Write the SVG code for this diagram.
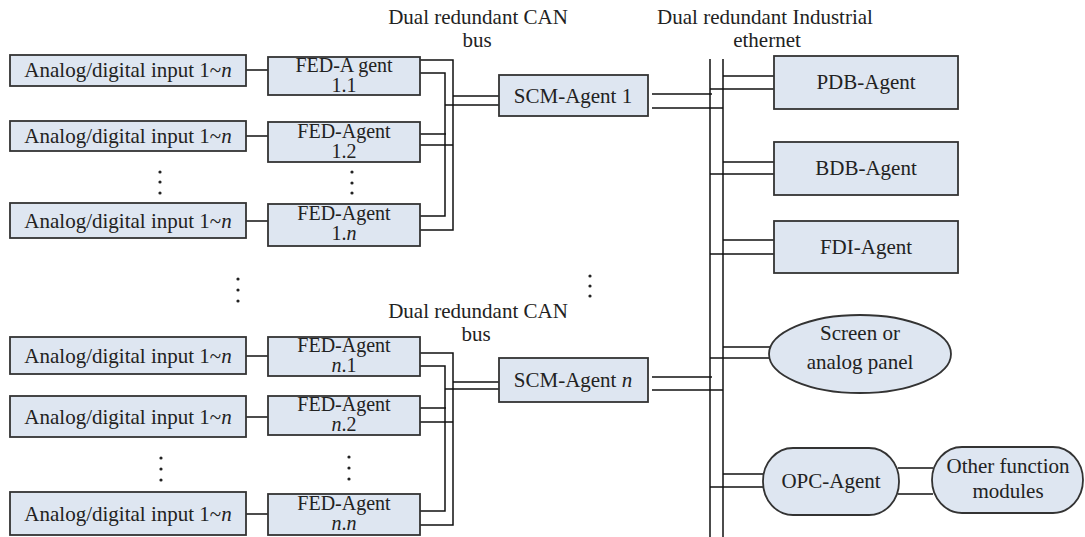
<svg xmlns="http://www.w3.org/2000/svg" width="1085" height="537" viewBox="0 0 1085 537">
<style>
.n{fill:#dee6f1;stroke:#333;stroke-width:1.8}
.t{font-family:"Liberation Serif","Times New Roman",serif;font-size:21px;fill:#222;text-anchor:middle}
.f{font-size:20px}
.i{font-style:italic}
.c line,.c polyline{stroke:#111;stroke-width:1.5;fill:none}
.d{fill:#222}
</style>
<rect width="1085" height="537" fill="#fff"/>
<g class="c" id="connectors">
<line x1="246" y1="70" x2="268" y2="70"/>
<line x1="246" y1="136" x2="268" y2="136"/>
<line x1="246" y1="221" x2="268" y2="221"/>
<line x1="246" y1="356" x2="268" y2="356"/>
<line x1="246" y1="417" x2="268" y2="417"/>
<line x1="246" y1="514" x2="268" y2="514"/>
<polyline points="420,60 453,60 453,230 420,230"/>
<line x1="420" y1="145" x2="453" y2="145"/>
<polyline points="420,73 445,73 445,216 420,216"/>
<line x1="420" y1="134" x2="446" y2="134"/>
<line x1="453" y1="96" x2="499" y2="96"/>
<line x1="445" y1="105" x2="499" y2="105"/>
<polyline points="420,353 453,353 453,525 420,525"/>
<line x1="420" y1="422" x2="453" y2="422"/>
<polyline points="420,366 445,366 445,511 420,511"/>
<line x1="420" y1="408" x2="446" y2="408"/>
<line x1="453" y1="382" x2="499" y2="382"/>
<line x1="445" y1="389" x2="499" y2="389"/>
<line x1="710" y1="59" x2="710" y2="537"/>
<line x1="723" y1="59" x2="723" y2="537"/>
<line x1="652" y1="94" x2="712" y2="94"/>
<line x1="652" y1="108" x2="723" y2="108"/>
<line x1="652" y1="377" x2="712" y2="377"/>
<line x1="652" y1="390" x2="723" y2="390"/>
<line x1="723" y1="76" x2="774" y2="76"/>
<line x1="710" y1="89" x2="774" y2="89"/>
<line x1="723" y1="162" x2="774" y2="162"/>
<line x1="710" y1="174" x2="774" y2="174"/>
<line x1="723" y1="240" x2="774" y2="240"/>
<line x1="710" y1="254" x2="774" y2="254"/>
<line x1="723" y1="347" x2="770" y2="347"/>
<line x1="710" y1="358" x2="769" y2="358"/>
<line x1="723" y1="474" x2="764" y2="474"/>
<line x1="710" y1="487" x2="764" y2="487"/>
<line x1="898" y1="468" x2="933" y2="468"/>
<line x1="898" y1="494" x2="933" y2="494"/>
</g>
<g id="in1"><rect class="n" x="10" y="55" width="236" height="31"/><text class="t" x="128" y="77">Analog/digital input 1~<tspan class="i">n</tspan></text></g>
<g id="in2"><rect class="n" x="10" y="121" width="236" height="30"/><text class="t" x="128" y="143">Analog/digital input 1~<tspan class="i">n</tspan></text></g>
<g id="in3"><rect class="n" x="10" y="203" width="236" height="35"/><text class="t" x="128" y="228">Analog/digital input 1~<tspan class="i">n</tspan></text></g>
<g id="in4"><rect class="n" x="10" y="337" width="236" height="37"/><text class="t" x="128" y="363">Analog/digital input 1~<tspan class="i">n</tspan></text></g>
<g id="in5"><rect class="n" x="10" y="396" width="236" height="41"/><text class="t" x="128" y="424">Analog/digital input 1~<tspan class="i">n</tspan></text></g>
<g id="in6"><rect class="n" x="10" y="492" width="236" height="43"/><text class="t" x="128" y="521">Analog/digital input 1~<tspan class="i">n</tspan></text></g>
<g id="fed11"><rect class="n" x="268" y="57" width="152" height="38"/><text class="t f" x="344" y="72">FED-A gent</text><text class="t f" x="344" y="92">1.1</text></g>
<g id="fed12"><rect class="n" x="268" y="122" width="152" height="40"/><text class="t f" x="344" y="138">FED-Agent</text><text class="t f" x="344" y="158">1.2</text></g>
<g id="fed1n"><rect class="n" x="268" y="204" width="152" height="42"/><text class="t f" x="344" y="220">FED-Agent</text><text class="t f" x="344" y="240">1.<tspan class="i">n</tspan></text></g>
<g id="fedn1"><rect class="n" x="268" y="337" width="152" height="39"/><text class="t f" x="344" y="352">FED-Agent</text><text class="t f" x="344" y="372"><tspan class="i">n</tspan>.1</text></g>
<g id="fedn2"><rect class="n" x="268" y="396" width="152" height="39"/><text class="t f" x="344" y="411">FED-Agent</text><text class="t f" x="344" y="431"><tspan class="i">n</tspan>.2</text></g>
<g id="fednn"><rect class="n" x="268" y="494" width="152" height="41"/><text class="t f" x="344" y="510">FED-Agent</text><text class="t f" x="344" y="530"><tspan class="i">n</tspan>.<tspan class="i">n</tspan></text></g>
<g id="scm1"><rect class="n" x="499" y="75" width="149" height="41"/><text class="t" x="573" y="103">SCM-Agent 1</text></g>
<g id="scmn"><rect class="n" x="499" y="358" width="149" height="44"/><text class="t" x="573" y="387">SCM-Agent <tspan class="i">n</tspan></text></g>
<g id="pdb"><rect class="n" x="774" y="56" width="184" height="53"/><text class="t" x="866" y="89">PDB-Agent</text></g>
<g id="bdb"><rect class="n" x="774" y="142" width="184" height="53"/><text class="t" x="866" y="175">BDB-Agent</text></g>
<g id="fdi"><rect class="n" x="774" y="221" width="184" height="52"/><text class="t" x="866" y="254">FDI-Agent</text></g>
<g id="screen"><ellipse class="n" cx="860" cy="354" rx="91" ry="39"/><text class="t" x="860" y="340">Screen or</text><text class="t" x="860" y="369">analog panel</text></g>
<g id="opc"><rect class="n" x="763" y="448" width="136" height="67" rx="30" ry="33"/><text class="t" x="831" y="488">OPC-Agent</text></g>
<g id="other"><rect class="n" x="932" y="447" width="151" height="66" rx="30" ry="33"/><text class="t" x="1008" y="473">Other function</text><text class="t" x="1008" y="498">modules</text></g>
<g id="labels">
<text class="t" x="478" y="24">Dual redundant CAN</text><text class="t" x="477" y="47">bus</text>
<text class="t" x="765" y="24">Dual redundant Industrial</text><text class="t" x="767" y="47">ethernet</text>
<text class="t" x="478" y="318">Dual redundant CAN</text><text class="t" x="476" y="341">bus</text>
</g>
<g id="dots" class="d">
<circle cx="160" cy="172" r="1.6"/><circle cx="160" cy="182" r="1.6"/><circle cx="160" cy="193" r="1.6"/>
<circle cx="352" cy="172" r="1.6"/><circle cx="352" cy="183" r="1.6"/><circle cx="352" cy="193" r="1.6"/>
<circle cx="238" cy="279" r="1.6"/><circle cx="238" cy="290" r="1.6"/><circle cx="238" cy="301" r="1.6"/>
<circle cx="590" cy="276" r="1.6"/><circle cx="590" cy="286" r="1.6"/><circle cx="590" cy="296" r="1.6"/>
<circle cx="161" cy="458" r="1.6"/><circle cx="161" cy="469" r="1.6"/><circle cx="161" cy="480" r="1.6"/>
<circle cx="349" cy="457" r="1.6"/><circle cx="349" cy="468" r="1.6"/><circle cx="349" cy="479" r="1.6"/>
</g>
</svg>
